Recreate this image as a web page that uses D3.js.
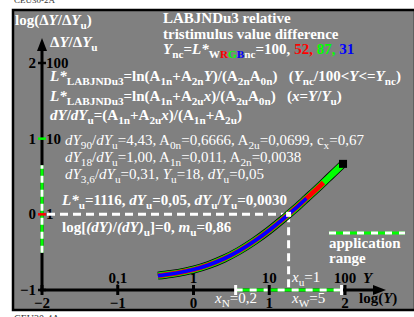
<!DOCTYPE html>
<html><head><meta charset="utf-8">
<script src="https://cdn.jsdelivr.net/npm/d3@7"></script>
<style>
body{margin:0;background:#fff}
svg{display:block;font-family:"Liberation Serif","Times New Roman",serif}
text{white-space:pre}
</style>
</head><body><svg id="c" width="414" height="317"></svg>
<script>
// ---- data ----
const curveLogY  = [-0.47,-0.3,-0.1,0,0.2,0.4,0.6,0.8,1.0,1.2,1.255,1.4,1.49,1.6,1.716,1.8,1.94,1.974];
const curveLogDY = [-0.810,-0.789,-0.753,-0.730,-0.669,-0.587,-0.483,-0.356,-0.210,-0.047,0,0.127,0.210,0.310,0.419,0.500,0.634,0.667];
const seriesNames = ["G","R","B"];
const seriesYnc   = [87,52,31];
const xTickValues = [-2,-1,0,1,2];
const xTopValues  = [-1,0,1,2];
const xTopLabels  = ["0,1","1","10","100"];
const yTickValues = [-1,0,1,2];
const yRightValues= [0,1,2];
const yRightLabels= ["1","10","100"];
const appRangeY   = [3.6,90];
const Yu = 18;

const svg = d3.select("#c");
const x = d3.scaleLinear().domain([-2,2]).range([42,345]);
const y = d3.scaleLinear().domain([-1,2]).range([290,63]);
const colors = {G:"#00ff00",R:"#ff0000",B:"#0000ff"};

// background
svg.append("text").attr("x",14).attr("y",3).attr("font-size",9).attr("fill","#333").text("CEU30-2A");
svg.append("rect").attr("x",13).attr("y",10).attr("width",402).attr("height",300)
  .attr("fill","#808080").attr("stroke","#000").attr("stroke-width",2.5);
svg.append("text").attr("x",14).attr("y",322).attr("font-size",10).attr("fill","#333").text("CEU30-4A");

function rich(xp,yp,parts,size,opt={}){
  const t=svg.append("text").attr("x",xp).attr("y",yp).attr("font-size",size)
    .attr("fill",opt.fill||"#fff").attr("font-weight",opt.bold?"bold":"normal")
    .attr("text-anchor",opt.anchor||"start");
  let shift=0; const subDy=Math.round(size*0.25);
  parts.forEach(p=>{
    const [s,f="",c] = typeof p==="string"?[p,""]:p;
    const ts=t.append("tspan").text(s);
    const target=f.includes("s")?subDy:0;
    if(target!==shift){ts.attr("dy",target-shift);shift=target;}
    if(f.includes("s")) ts.attr("font-size",size*0.75);
    if(f.includes("i")) ts.attr("font-style","italic");
    if(c) ts.attr("fill",c);
  });
  return t;
}

// texts
rich(15,25,["log(Δ",["Y","i"],"/Δ",["Y","i"],["u","s"],")"],15,{bold:true});
rich(50,47,["Δ",["Y","i"],"/Δ",["Y","i"],["u","s"]],15,{bold:true});
rich(163,23,["LABJNDu3 relative"],15,{bold:true});
rich(163,39,["tristimulus value difference"],15,{bold:true});
rich(163,54,[["Y","i"],["nc","s"],"=",["L*","i"],["W","s"],["R","s",colors.R],["G","s",colors.G],["B","s",colors.B],["nc","s"],"=100, ",["52,","",colors.R]," ",["87,","",colors.G]," ",["31","",colors.B]],15,{bold:true});
rich(50,81,[["L*","i"],["LABJNDu3","s"],"=ln(A",["1n","s"],"+A",["2n","s"],["Y","i"],")/(A",["2n","s"],"A",["0n","s"],")   (",["Y","i"],["nc","s"],"/100<",["Y","i"],"<=",["Y","i"],["nc","s"],")"],15,{bold:true});
rich(50,101,[["L*","i"],["LABJNDu3","s"],"=ln(A",["1n","s"],"+A",["2u","s"],["x","i"],")/(A",["2u","s"],"A",["0n","s"],")   (",["x","i"],"=",["Y","i"],"/",["Y","i"],["u","s"],")"],15,{bold:true});
rich(50,120,[["dY","i"],"/",["dY","i"],["u","s"],"=(A",["1n","s"],"+A",["2u","s"],["x","i"],")/(A",["1n","s"],"+A",["2u","s"],")"],15,{bold:true});
rich(65,145,[["dY","i"],["90","s"],"/",["dY","i"],["u","s"],"=4,43, A",["0n","s"],"=0,6666, A",["2u","s"],"=0,0699, c",["x","s"],"=0,67"],15);
rich(65,162,[["dY","i"],["18","s"],"/",["dY","i"],["u","s"],"=1,00, A",["1n","s"],"=0,011, A",["2n","s"],"=0,0038"],15);
rich(65,179,[["dY","i"],["3,6","s"],"/",["dY","i"],["u","s"],"=0,31, ",["Y","i"],["u","s"],"=18, ",["dY","i"],["u","s"],"=0,05"],15);
rich(62,205,[["L*","i"],["u","s"],"=1116, ",["dY","i"],["u","s"],"=0,05, ",["dY","i"],["u","s"],"/",["Y","i"],["u","s"],"=0,0030"],15,{bold:true});
rich(62,232,["log[",["(dY)","i"],"/",["(dY)","i"],["u","s"],"]=0, ",["m","i"],["u","s"],"=0,86"],15,{bold:true});

// application range legend
svg.append("line").attr("x1",329).attr("x2",405).attr("y1",233).attr("y2",233).attr("stroke","#00ff00").attr("stroke-width",3);
svg.append("line").attr("x1",329).attr("x2",405).attr("y1",233).attr("y2",233).attr("stroke","#fff").attr("stroke-width",3).attr("stroke-dasharray","7,7");
rich(329,248,["application"],15,{bold:true});
rich(329,263,["range"],15,{bold:true});

// axes
const ax=svg.append("g");
ax.append("line").attr("x1",x(-2)).attr("x2",x(-2)).attr("y1",y(-1)).attr("y2",48).attr("stroke","#000").attr("stroke-width",3);
ax.append("path").attr("d",`M${x(-2)},38 L${x(-2)-5},51 L${x(-2)+5},51Z`).attr("fill","#000");
ax.append("line").attr("x1",x(-2)-2).attr("x2",376).attr("y1",y(-1)).attr("y2",y(-1)).attr("stroke","#000").attr("stroke-width",3);
ax.append("path").attr("d",`M386,${y(-1)} L373,${y(-1)-5} L373,${y(-1)+5}Z`).attr("fill","#000");

// y application range on axis
const yr=appRangeY.map(v=>y(Math.log10((0.011+0.0038*v)/(0.011+0.0038*Yu))));
ax.append("line").attr("x1",x(-2)).attr("x2",x(-2)).attr("y1",yr[0]).attr("y2",yr[1]).attr("stroke","#00ff00").attr("stroke-width",3);
ax.append("line").attr("x1",x(-2)).attr("x2",x(-2)).attr("y1",yr[0]).attr("y2",yr[1]).attr("stroke","#fff").attr("stroke-width",3).attr("stroke-dasharray","7,7");
// x application range on axis
const xr=appRangeY.map(v=>x(Math.log10(v)));
ax.append("line").attr("x1",xr[0]).attr("x2",xr[1]).attr("y1",y(-1)).attr("y2",y(-1)).attr("stroke","#00ff00").attr("stroke-width",3);
ax.append("line").attr("x1",xr[0]).attr("x2",xr[1]).attr("y1",y(-1)).attr("y2",y(-1)).attr("stroke","#fff").attr("stroke-width",3).attr("stroke-dasharray","7,7");
xr.forEach(v=>ax.append("line").attr("x1",v).attr("x2",v).attr("y1",y(-1)-5).attr("y2",y(-1)+5).attr("stroke","#fff").attr("stroke-width",3));

// ticks
xTickValues.forEach(v=>{
  ax.append("line").attr("x1",x(v)).attr("x2",x(v)).attr("y1",y(-1)-5).attr("y2",y(-1)+5).attr("stroke","#000").attr("stroke-width",3);
  rich(x(v),308,[String(v).replace("-","−")],15,{bold:true,fill:"#000",anchor:"middle"});
});
xTopValues.forEach((v,i)=>rich(x(v),283,[xTopLabels[i]],15,{bold:true,fill:"#000",anchor:"middle"}));
rich(363,283,[["Y","i"]],15,{bold:true,fill:"#000"});
rich(359,303,["log(",["Y","i"],")"],15,{bold:true,fill:"#000"});
const tickCol={"-1":"#000","0":"#ff0000","1":"#00ff00","2":"#000"};
yTickValues.forEach(v=>{
  ax.append("line").attr("x1",x(-2)-4).attr("x2",x(-2)+4).attr("y1",y(v)).attr("y2",y(v)).attr("stroke",tickCol[v]).attr("stroke-width",2.5);
  rich(x(-2)-6,y(v)+5,[String(v).replace("-","−")],15,{bold:true,fill:"#000",anchor:"end"});
});
yRightValues.forEach((v,i)=>rich(x(-2)+4,y(v)+5,[yRightLabels[i]],15,{bold:true,fill:"#000"}));

// x labels white
rich(215,303,[["x","i"],["N","s"],"=0,2"],15);
rich(292,303,[["x","i"],["W","s"],"=5"],15);
rich(292,282,[["x","i"],["u","s"],"=1"],15);

// dashed reference lines
const xu=x(Math.log10(Yu));
svg.append("line").attr("x1",x(-2)+5).attr("x2",xu).attr("y1",y(0)).attr("y2",y(0)).attr("stroke","#fff").attr("stroke-width",3).attr("stroke-dasharray","8,5");
svg.append("line").attr("x1",xu).attr("x2",xu).attr("y1",y(0)).attr("y2",y(-1)).attr("stroke","#fff").attr("stroke-width",3).attr("stroke-dasharray","8,5");

// curve
const pts=curveLogY.map((v,i)=>[v,curveLogDY[i]]);
const line=d3.line().x(d=>x(d[0])).y(d=>y(d[1])).curve(d3.curveMonotoneX);
const upto=lim=>pts.filter(d=>d[0]<=Math.log10(lim)+1e-6);
svg.append("path").attr("d",line(pts)).attr("fill","none").attr("stroke","#000").attr("stroke-width",8);
const widths={G:6.5,R:5,B:3.6};
seriesNames.forEach((n,i)=>{
  svg.append("path").attr("d",line(i===0?pts:upto(seriesYnc[i]))).attr("fill","none").attr("stroke",colors[n]).attr("stroke-width",widths[n]);
});
const last=pts[pts.length-1];
svg.append("rect").attr("x",x(last[0])-4).attr("y",y(last[1])-4).attr("width",8).attr("height",8).attr("fill","#000");
svg.append("rect").attr("x",xu-2.5).attr("y",y(0)-2.5).attr("width",5).attr("height",5).attr("fill","#fff");
</script></body></html>
